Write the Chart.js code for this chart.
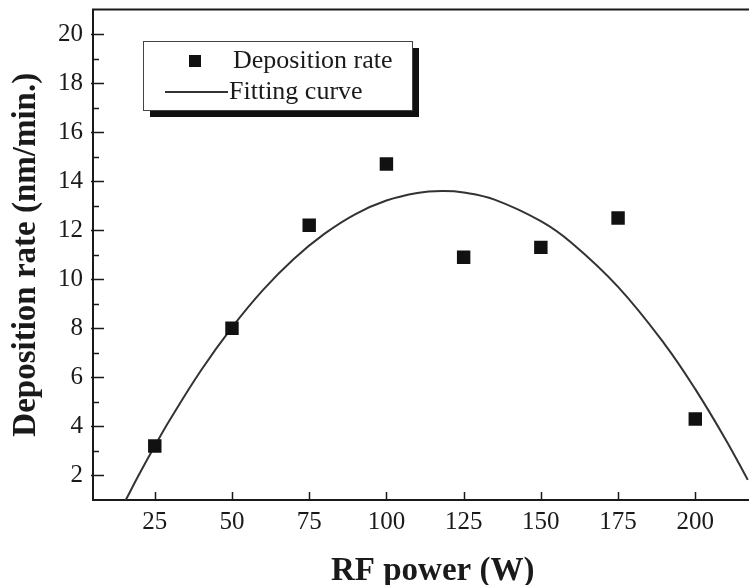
<!DOCTYPE html>
<html>
<head>
<meta charset="utf-8">
<script src="https://cdn.jsdelivr.net/npm/chart.js@4.4.0/dist/chart.umd.min.js"></script>
<style>
  html, body { margin: 0; padding: 0; background: #fff; overflow: hidden; }
</style>
</head>
<body>
<canvas id="myChart" width="782" height="585"></canvas>
<script>
// Datos medidos
var rfPower = [25, 50, 75, 100, 125, 150, 175, 200];
var depositionRate = [3.2, 8.0, 12.2, 14.7, 10.9, 11.3, 12.5, 4.3];

// Curva de ajuste
var fitPower = [15.6, 20, 25, 30, 40, 50, 60, 70, 80, 90, 100, 110, 118, 125, 135, 150, 160, 175, 190, 200, 210, 217];
var fitRate = [1.0, 2.06, 3.2, 4.29, 6.29, 8.04, 9.56, 10.83, 11.86, 12.66, 13.21, 13.52, 13.6, 13.54, 13.25, 12.37, 11.48, 9.69, 7.37, 5.52, 3.43, 1.82];

// Marcas de los ejes
var xTicks = [25, 50, 75, 100, 125, 150, 175, 200];
var yTicks = [2, 4, 6, 8, 10, 12, 14, 16, 18, 20];
var yMinorTicks = [3, 5, 7, 9, 11, 13, 15, 17, 19];

var serif = "'Liberation Serif', 'Times New Roman', serif";
var ink = '#1a1a1a';

function toPoints(xs, ys) {
  return xs.map(function (v, i) { return { x: v, y: ys[i] }; });
}

// Marcas hacia dentro, borde superior y leyenda con sombra
var extras = {
  id: 'extras',
  afterDraw: function (chart) {
    var ctx = chart.ctx;
    var area = chart.chartArea;
    var xs = chart.scales.x;
    var ys = chart.scales.y;
    ctx.save();
    ctx.strokeStyle = ink;
    ctx.lineWidth = 2;
    ctx.beginPath();
    ctx.moveTo(area.left - 1, area.top);
    ctx.lineTo(chart.width, area.top);
    ctx.stroke();

    ctx.lineWidth = 1.5;
    ctx.beginPath();
    yTicks.forEach(function (v) {
      var py = Math.round(ys.getPixelForValue(v)) + 0.5;
      ctx.moveTo(area.left - 2, py);
      ctx.lineTo(area.left + 11, py);
    });
    yMinorTicks.forEach(function (v) {
      var py = Math.round(ys.getPixelForValue(v)) + 0.5;
      ctx.moveTo(area.left, py);
      ctx.lineTo(area.left + 6, py);
    });
    xTicks.forEach(function (v) {
      var px = Math.round(xs.getPixelForValue(v)) + 0.5;
      ctx.moveTo(px, area.bottom);
      ctx.lineTo(px, area.bottom - 8);
    });
    ctx.stroke();

    // leyenda
    ctx.fillStyle = '#111';
    ctx.fillRect(150, 48, 269, 69);
    ctx.fillStyle = '#fff';
    ctx.fillRect(143, 41, 269, 69);
    ctx.lineWidth = 1;
    ctx.strokeStyle = '#444';
    ctx.strokeRect(143.5, 41.5, 269, 69);

    ctx.fillStyle = '#111';
    ctx.fillRect(189, 55, 12, 12);
    ctx.strokeStyle = '#333';
    ctx.lineWidth = 2;
    ctx.beginPath();
    ctx.moveTo(165, 92);
    ctx.lineTo(228, 92);
    ctx.stroke();

    ctx.fillStyle = ink;
    ctx.font = '26px ' + serif;
    ctx.textBaseline = 'middle';
    ctx.textAlign = 'left';
    ctx.fillText('Deposition rate', 233, 61);
    ctx.fillText('Fitting curve', 229, 92);
    ctx.restore();
  }
};

var ctx = document.getElementById('myChart').getContext('2d');
var myChart = new Chart(ctx, {
  type: 'scatter',
  data: {
    datasets: [{
      label: 'Deposition rate',
      data: toPoints(rfPower, depositionRate),
      pointStyle: 'rect',
      pointRadius: 9.5,
      backgroundColor: '#111',
      borderColor: '#111',
      borderWidth: 0,
      order: 1
    }, {
      label: 'Fitting curve',
      data: toPoints(fitPower, fitRate),
      showLine: true,
      pointRadius: 0,
      borderColor: '#333',
      borderWidth: 2,
      tension: 0.4,
      order: 2
    }]
  },
  options: {
    responsive: false,
    animation: false,
    layout: { padding: { left: 0, right: 0, top: 9, bottom: 0 } },
    plugins: {
      legend: { display: false },
      tooltip: { enabled: false }
    },
    scales: {
      x: {
        type: 'linear',
        position: 'bottom',
        min: 5,
        max: 225,
        afterBuildTicks: function (scale) {
          scale.ticks = xTicks.map(function (v) { return { value: v }; });
        },
        afterFit: function (scale) {
          scale.height = 85;
          scale.paddingLeft = 0;
          scale.paddingRight = 0;
        },
        grid: { display: false, drawTicks: false },
        border: { display: true, color: ink, width: 2 },
        ticks: {
          color: ink,
          padding: 7,
          maxRotation: 0,
          font: { family: serif, size: 25 }
        },
        title: {
          display: true,
          text: 'RF power (W)',
          color: ink,
          padding: { top: 0, bottom: -6 },
          font: { family: serif, size: 33, weight: 'bold' }
        }
      },
      y: {
        type: 'linear',
        min: 1,
        max: 21,
        afterBuildTicks: function (scale) {
          scale.ticks = yTicks.map(function (v) { return { value: v }; });
        },
        afterFit: function (scale) {
          scale.width = 93;
          scale.paddingTop = 0;
          scale.paddingBottom = 0;
        },
        grid: { display: false, drawTicks: false },
        border: { display: true, color: ink, width: 2 },
        ticks: {
          color: ink,
          padding: 10,
          font: { family: serif, size: 25 }
        },
        title: {
          display: true,
          text: 'Deposition rate (nm/min.)',
          color: ink,
          padding: { top: 7, bottom: 0 },
          font: { family: serif, size: 33, weight: 'bold' }
        }
      }
    }
  },
  plugins: [extras]
});
</script>
</body>
</html>
